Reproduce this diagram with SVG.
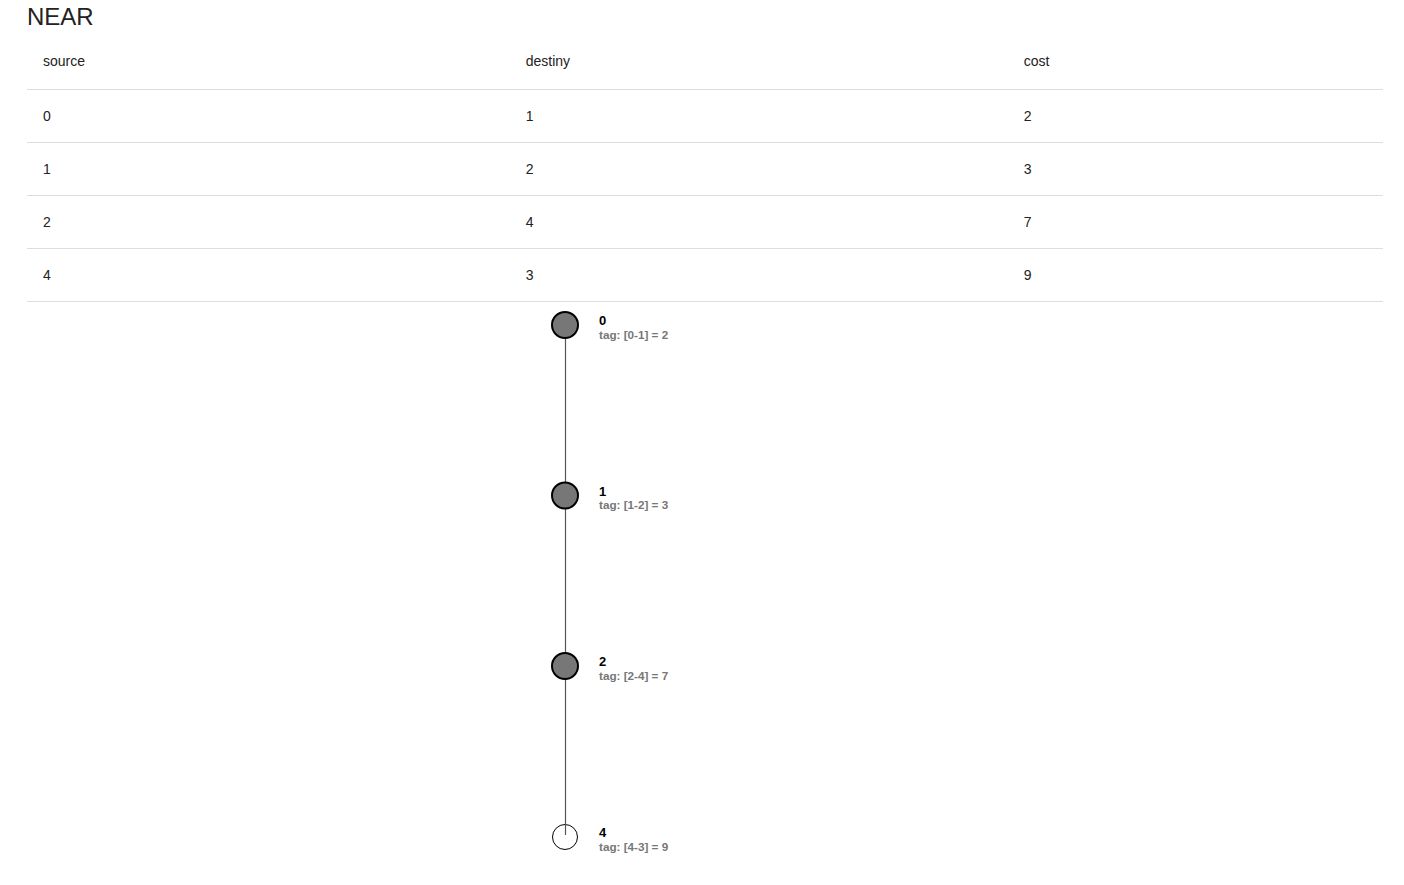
<svg xmlns="http://www.w3.org/2000/svg" width="1404" height="885" viewBox="0 0 1404 885">
<style>
text{font-family:"Liberation Sans",Arial,sans-serif;fill:#222}
.t{font-size:14px}
.title{font-size:24px}
.rule{stroke:#ddd;stroke-width:1}
.nf{fill:#777;stroke:#000;stroke-width:2}
.ne{fill:none;stroke:#000;stroke-width:1}
.nl{font-size:13px;font-weight:bold;fill:#000}
.tg{font-size:11.7px;font-weight:bold;fill:#777}
.edge{stroke:#555;stroke-width:1.2;fill:none}
</style>
<rect width="1404" height="885" fill="#fff"/>
<g id="table">
<text class="title" x="27" y="25">NEAR</text>
<text class="t" x="43" y="66">source</text>
<text class="t" x="525.7" y="66">destiny</text>
<text class="t" x="1023.7" y="66">cost</text>
<line class="rule" x1="27" y1="89.5" x2="1383" y2="89.5"/>
<text class="t" x="43" y="121">0</text><text class="t" x="525.7" y="121">1</text><text class="t" x="1023.7" y="121">2</text>
<line class="rule" x1="27" y1="142.5" x2="1383" y2="142.5"/>
<text class="t" x="43" y="174">1</text><text class="t" x="525.7" y="174">2</text><text class="t" x="1023.7" y="174">3</text>
<line class="rule" x1="27" y1="195.5" x2="1383" y2="195.5"/>
<text class="t" x="43" y="227">2</text><text class="t" x="525.7" y="227">4</text><text class="t" x="1023.7" y="227">7</text>
<line class="rule" x1="27" y1="248.5" x2="1383" y2="248.5"/>
<text class="t" x="43" y="280">4</text><text class="t" x="525.7" y="280">3</text><text class="t" x="1023.7" y="280">9</text>
<line class="rule" x1="27" y1="301.5" x2="1383" y2="301.5"/>
</g>
<g id="node4">
<circle class="ne" cx="565" cy="837" r="12.5"/>
<text class="nl" x="599" y="837">4</text>
<text class="tg" x="599" y="851">tag: [4-3] = 9</text>
</g>
<g id="connectors">
<line class="edge" x1="565.5" y1="325" x2="565.5" y2="495"/>
<line class="edge" x1="565.5" y1="495" x2="565.5" y2="666"/>
<line class="edge" x1="565.5" y1="666" x2="565.5" y2="835"/>
</g>
<g id="node0">
<circle class="nf" cx="565" cy="325" r="13"/>
<text class="nl" x="599" y="325">0</text>
<text class="tg" x="599" y="339">tag: [0-1] = 2</text>
</g>
<g id="node1">
<circle class="nf" cx="565" cy="495.5" r="13"/>
<text class="nl" x="599" y="496">1</text>
<text class="tg" x="599" y="509">tag: [1-2] = 3</text>
</g>
<g id="node2">
<circle class="nf" cx="565" cy="666" r="13"/>
<text class="nl" x="599" y="666">2</text>
<text class="tg" x="599" y="680">tag: [2-4] = 7</text>
</g>
</svg>
